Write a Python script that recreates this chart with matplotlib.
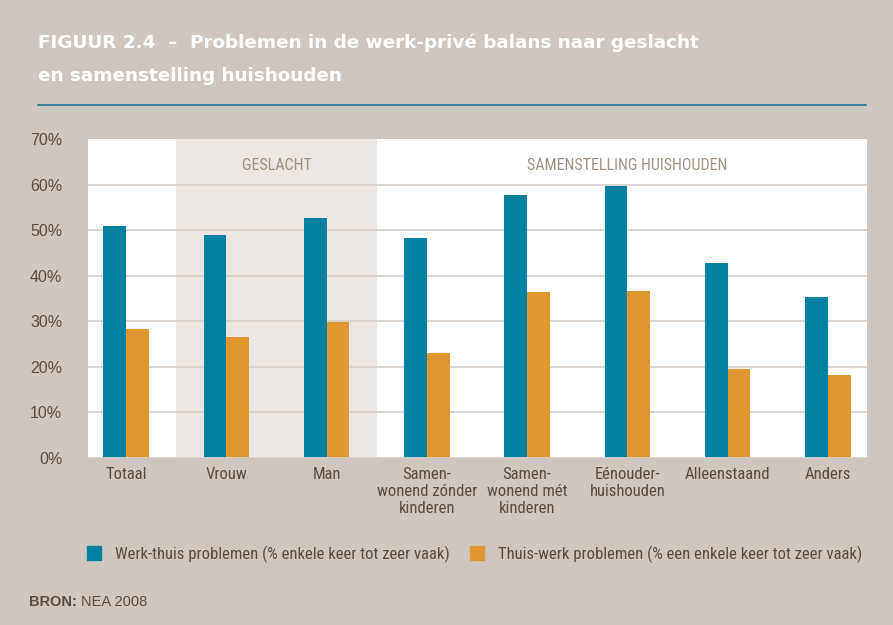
import numpy as np
import matplotlib.pyplot as plt
from matplotlib.patches import Rectangle
from matplotlib import font_manager as fm

categories = ["Totaal", "Vrouw", "Man", "Samen-\nwonend zónder\nkinderen",
              "Samen-\nwonend mét\nkinderen", "Eénouder-\nhuishouden",
              "Alleenstaand", "Anders"]
werk_thuis = [50.9, 48.9, 52.7, 48.3, 57.7, 59.7, 42.8, 35.3]
thuis_werk = [28.3, 26.5, 29.8, 23.0, 36.4, 36.6, 19.5, 18.2]
series_names = ["Werk-thuis problemen (% enkele keer tot zeer vaak)",
                "Thuis-werk problemen (% een enkele keer tot zeer vaak)"]
yticks = [0, 10, 20, 30, 40, 50, 60, 70]

BG = "#cfc6bf"
BLUE = "#0081a1"
ORANGE = "#e19730"
TXT = "#5a4d42"
GRID = "#d9d1cb"

# pick a narrow family if one is around, else plain sans
have = set(f.name for f in fm.fontManager.ttflist)
narrow = None
for cand in ["Roboto Condensed", "Archivo Narrow", "PT Sans Narrow", "Liberation Sans Narrow"]:
    if cand in have:
        narrow = cand
        break
if narrow:
    plt.rcParams['font.family'] = [narrow, 'DejaVu Sans']
    s_tick, s_sec, s_leg = 12, 11.5, 12
else:
    plt.rcParams['font.family'] = ['DejaVu Sans']
    s_tick, s_sec, s_leg = 9.5, 9.5, 9.5
WIDE = ['Liberation Sans', 'DejaVu Sans']

fig = plt.figure(figsize=(8.93, 6.25), dpi=100, facecolor=BG)
ax = fig.add_axes([0.0985, 0.2677, 0.8724, 0.5094])
ax.set_facecolor("white")

x = np.arange(len(categories))
w = 0.226
ax.axvspan(0.5, 2.5, color="#ece6e2", zorder=0, lw=0)
ax.bar(x - w / 2, werk_thuis, w, color=BLUE, zorder=3)
ax.bar(x + w / 2, thuis_werk, w, color=ORANGE, zorder=3)

ax.set_xlim(-0.38, 7.39)
ax.set_ylim(0, 70)
ax.set_yticks(yticks)
ax.set_yticklabels([f"{v}%" for v in yticks], fontsize=11.5, color=TXT, family=WIDE)
ax.set_xticks(x)
ax.set_xticklabels(categories, fontsize=s_tick, color=TXT, linespacing=1.15, va="top")
ax.tick_params(axis="both", length=0)
ax.tick_params(axis="y", pad=18.5)
ax.tick_params(axis="x", pad=7)
for v in yticks[1:-1]:
    ax.axhline(v, color=GRID, lw=1.3, zorder=1)
ax.axhline(0, color=GRID, lw=2, zorder=4)
for s in ax.spines.values():
    s.set_visible(False)

ax.text(1.5, 64.3, "GESLACHT", ha="center", va="center", fontsize=s_sec, color="#a09282")
ax.text(5.0, 64.3, "SAMENSTELLING HUISHOUDEN", ha="center", va="center",
        fontsize=s_sec, color="#a09282")

# title block
fig.text(38 / 893, 1 - 48 / 625, "FIGUUR 2.4  –  Problemen in de werk-privé balans naar geslacht",
         color="white", fontsize=13.2, fontweight="bold", va="baseline", family=['DejaVu Sans'])
fig.text(38 / 893, 1 - 81 / 625, "en samenstelling huishouden",
         color="white", fontsize=13.2, fontweight="bold", va="baseline", family=['DejaVu Sans'])
fig.add_artist(plt.Line2D([38 / 893, 866 / 893], [1 - 105 / 625, 1 - 105 / 625],
                          color="#1b7a93", lw=1.2))

# legend
for xm, col, lab in [(87, BLUE, series_names[0]), (470, ORANGE, series_names[1])]:
    fig.add_artist(Rectangle((xm / 893, 1 - 560 / 625), 14 / 893, 14 / 625,
                             color=col, transform=fig.transFigure))
    fig.text((xm + 28) / 893, 1 - 554 / 625, lab, color=TXT, fontsize=s_leg, va="center")

t = fig.text(29 / 893, 1 - 602 / 625, "BRON: ", color=TXT, fontsize=10.5,
             fontweight="bold", va="center", family=WIDE)
fig.canvas.draw()
bb = t.get_window_extent()
fig.text(bb.x1 / 893, 1 - 602 / 625, "NEA 2008", color=TXT, fontsize=10.5, va="center",
         family=WIDE)

fig.savefig("out.png", dpi=100, facecolor=BG)
